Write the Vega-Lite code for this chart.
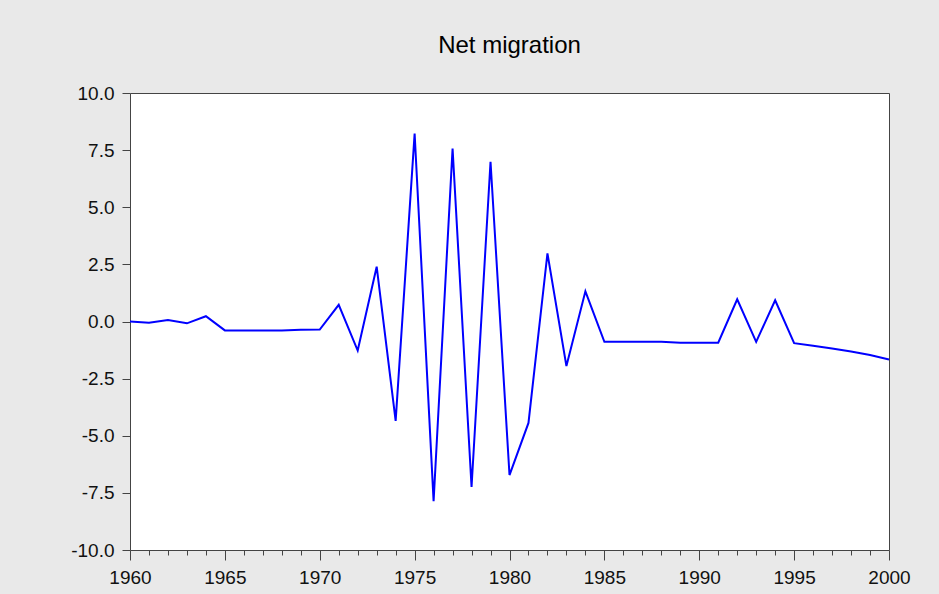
{
  "$schema": "https://vega.github.io/schema/vega-lite/v6.json",
  "autosize": "none",
  "padding": {"left": 130, "top": 93, "right": 50, "bottom": 44},
  "width": 759,
  "height": 457,
  "background": "#e9e9e9",
  "title": {
    "text": "Net migration",
    "font": "Liberation Sans",
    "fontSize": 24,
    "fontWeight": "normal",
    "color": "#000000",
    "anchor": "middle",
    "frame": "group",
    "baseline": "alphabetic",
    "offset": 7
  },
  "config": {
    "view": {"fill": "#ffffff", "stroke": "#444444", "strokeWidth": 1},
    "axis": {
      "labelFont": "Liberation Sans",
      "labelFontSize": 19,
      "labelColor": "#111111",
      "tickColor": "#444444",
      "grid": false,
      "domain": false,
      "labelFlush": false,
      "labelOverlap": false,
      "title": null
    }
  },
  "data": {
    "values": [
      {"year": 1960, "value": 0.0},
      {"year": 1961, "value": -0.05},
      {"year": 1962, "value": 0.07},
      {"year": 1963, "value": -0.08},
      {"year": 1964, "value": 0.23},
      {"year": 1965, "value": -0.39},
      {"year": 1966, "value": -0.39},
      {"year": 1967, "value": -0.39},
      {"year": 1968, "value": -0.39},
      {"year": 1969, "value": -0.36},
      {"year": 1970, "value": -0.35},
      {"year": 1971, "value": 0.73},
      {"year": 1972, "value": -1.27},
      {"year": 1973, "value": 2.4},
      {"year": 1974, "value": -4.35},
      {"year": 1975, "value": 8.22},
      {"year": 1976, "value": -7.86},
      {"year": 1977, "value": 7.57},
      {"year": 1978, "value": -7.24},
      {"year": 1979, "value": 6.99},
      {"year": 1980, "value": -6.72},
      {"year": 1981, "value": -4.44},
      {"year": 1982, "value": 2.98},
      {"year": 1983, "value": -1.95},
      {"year": 1984, "value": 1.32},
      {"year": 1985, "value": -0.89},
      {"year": 1986, "value": -0.89},
      {"year": 1987, "value": -0.89},
      {"year": 1988, "value": -0.89},
      {"year": 1989, "value": -0.93},
      {"year": 1990, "value": -0.93},
      {"year": 1991, "value": -0.93},
      {"year": 1992, "value": 0.97},
      {"year": 1993, "value": -0.89},
      {"year": 1994, "value": 0.93},
      {"year": 1995, "value": -0.95},
      {"year": 1996, "value": -1.06},
      {"year": 1997, "value": -1.18},
      {"year": 1998, "value": -1.31},
      {"year": 1999, "value": -1.47},
      {"year": 2000, "value": -1.66}
    ]
  },
  "mark": {"type": "line", "color": "#0000ff", "strokeWidth": 2},
  "encoding": {
    "x": {
      "field": "year",
      "type": "quantitative",
      "scale": {"domain": [1960, 2000], "nice": false, "zero": false},
      "axis": {
        "values": [1960,1961,1962,1963,1964,1965,1966,1967,1968,1969,1970,1971,1972,1973,1974,1975,1976,1977,1978,1979,1980,1981,1982,1983,1984,1985,1986,1987,1988,1989,1990,1991,1992,1993,1994,1995,1996,1997,1998,1999,2000],
        "format": "d",
        "labelExpr": "datum.value % 5 === 0 ? datum.label : ''",
        "tickSize": {"condition": {"test": "datum.value % 5 === 0", "value": 10}, "value": 5},
        "labelPadding": 8
      }
    },
    "y": {
      "field": "value",
      "type": "quantitative",
      "scale": {"domain": [-10, 10], "nice": false},
      "axis": {
        "values": [-10, -7.5, -5, -2.5, 0, 2.5, 5, 7.5, 10],
        "format": ".1f",
        "labelExpr": "replace(datum.label, '\u2212', '-')",
        "tickSize": 8,
        "labelPadding": 8
      }
    }
  }
}
